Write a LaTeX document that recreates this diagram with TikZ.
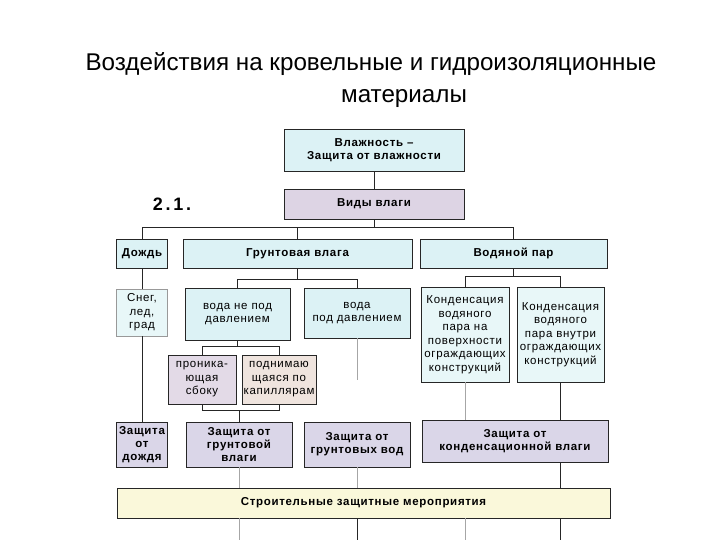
\documentclass[tikz,border=0pt]{standalone}
\usepackage{fontspec}
\setmainfont{Liberation Sans}
\newfontfamily\chartfont[LetterSpace=6]{Liberation Sans}
\newfontfamily\numfont[LetterSpace=15]{Liberation Sans}

\definecolor{wetcyan}{HTML}{DCF2F5}
\definecolor{palecyan}{HTML}{E8F7F8}
\definecolor{wetlav}{HTML}{DAD6E8}
\definecolor{kindlav}{HTML}{DDD4E4}
\definecolor{sidelav}{HTML}{E3DAE7}
\definecolor{capbeige}{HTML}{EFE4DE}
\definecolor{buildyellow}{HTML}{FAF8DA}

\begin{document}
\begin{tikzpicture}[
        x=1pt, y=-1pt,
        every node/.style={font=\chartfont\fontsize{11.5}{13.5}\selectfont},
        kind/.style={
            draw=black!85,
            line width=0.8pt,
            align=center,
            inner sep=1pt
        },
        boldkind/.style={
            kind,
            font=\chartfont\bfseries\fontsize{11.5}{13}\selectfont
        },
        link/.style={draw=black!85, line width=0.7pt},
        faintlink/.style={draw=black!35, line width=0.6pt}
    ]

    \fill[white] (0,0) rectangle (720,540);
    \useasboundingbox (0,0) rectangle (720,540);

    % =========================
    % Title
    % =========================
    \node[font=\fontsize{24.2}{29}\selectfont] (title1) at (371,64)
        {Воздействия на кровельные и гидроизоляционные};
    \node[font=\fontsize{24.2}{29}\selectfont] (title2) at (404,99) {материалы};

    \node[font=\numfont\bfseries\fontsize{18}{20}\selectfont] (num) at (172,204) {2.1.};

    % =========================
    % Top of the tree
    % =========================
    \node[boldkind, fill=wetcyan, minimum width=180, minimum height=42] (vlazh) at (374,150)
        {Влажность –\\Защита от влажности};
    \node[boldkind, fill=kindlav, minimum width=180, minimum height=30] (vidy) at (374,204)
        {Виды влаги};

    % =========================
    % Kinds of moisture
    % =========================
    \node[boldkind, fill=wetcyan, minimum width=51, minimum height=29] (dozhd) at (142,253.5) {Дождь};
    \node[boldkind, fill=wetcyan, minimum width=229, minimum height=29] (grunt) at (297.5,253.5) {Грунтовая влага};
    \node[boldkind, fill=wetcyan, minimum width=187, minimum height=29] (par) at (513.5,253.5) {Водяной пар};

    \node[kind, draw=black!40, fill=palecyan, minimum width=51, minimum height=47] (sneg) at (142,312.5)
        {Снег,\\лед,\\град};
    \node[kind, fill=wetcyan, minimum width=105, minimum height=52] (vodane) at (237.5,314)
        {вода не под\\давлением};
    \node[kind, fill=wetcyan, minimum width=106, minimum height=50] (vodapod) at (357,313)
        {вода\\под давлением};
    \node[kind, fill=palecyan, minimum width=88, minimum height=95] (kond1) at (465,334.5)
        {Конденсация\\водяного\\пара на\\поверхности\\ограждающих\\конструкций};
    \node[kind, fill=palecyan, minimum width=87, minimum height=95] (kond2) at (560.5,334.5)
        {Конденсация\\водяного\\пара внутри\\ограждающих\\конструкций};

    \node[kind, fill=sidelav, minimum width=68, minimum height=49] (pronik) at (202,379.5)
        {проника-\\ющая\\сбоку};
    \node[kind, fill=capbeige, minimum width=74, minimum height=49] (podnim) at (279,379.5)
        {поднимаю\\щаяся по\\капиллярам};

    % =========================
    % Protection
    % =========================
    \node[boldkind, fill=wetlav, minimum width=51, minimum height=45] (zdozhd) at (142,444.5)
        {Защита\\от\\дождя};
    \node[boldkind, fill=wetlav, minimum width=106, minimum height=45] (zgrunt) at (239,444.5)
        {Защита от\\грунтовой\\влаги};
    \node[boldkind, fill=wetlav, minimum width=106, minimum height=45] (zvod) at (357,444.5)
        {Защита от\\грунтовых вод};
    \node[boldkind, fill=wetlav, minimum width=186, minimum height=42] (zkond) at (515,441)
        {Защита от\\конденсационной влаги};

    \node[boldkind, fill=buildyellow, minimum width=493, minimum height=30] (stroit) at (363.5,503)
        {Строительные защитные мероприятия};

    % =========================
    % Connectors
    % =========================
    \draw[link] (vlazh) -- (vidy);
    \draw[link] (vidy.south) -- ++(0,9);
    \draw[link] (dozhd.north) -- ++(0,-11) -| (par.north);
    \draw[link] (grunt.north) -- ++(0,-11);

    \draw[link] (dozhd) -- (sneg);
    \draw[link] (sneg) -- (zdozhd);

    \draw[link] (grunt.south) -- ++(0,12);
    \draw[link] (vodane.north) -- ++(0,-8) -| (vodapod.north);
    \draw[link] (vodane.south) -- ++(0,7);
    \draw[link] (pronik.north) -- ++(0,-8) -| (podnim.north);
    \draw[link] (pronik.south) -- ++(0,6) -| (podnim.south);
    \draw[link] (zgrunt.north) -- ++(0,-12);

    \coordinate (vodapodend) at (357,380);
    \draw[faintlink] (vodapod) -- (vodapodend);

    \draw[link] (par.south) -- ++(0,9);
    \draw[link] (kond1.north) -- ++(0,-10) -| (kond2.north);
    \draw[faintlink] (kond1) -- (kond1 |- zkond.north);
    \draw[link] (kond2) -- (kond2 |- zkond.north);

    \draw[link] (zkond.south -| kond2) -- (kond2 |- stroit.north);
    \draw[faintlink] (zgrunt) -- (zgrunt |- stroit.north);
    \draw[faintlink] (zvod) -- (zvod |- stroit.north);

    % stubs below the bottom bar
    \foreach \src/\sty in {zgrunt/faintlink, zvod/link, kond1/faintlink, kond2/link}
        \draw[\sty] (stroit.south -| \src) -- ++(0,22);

\end{tikzpicture}
\end{document}
